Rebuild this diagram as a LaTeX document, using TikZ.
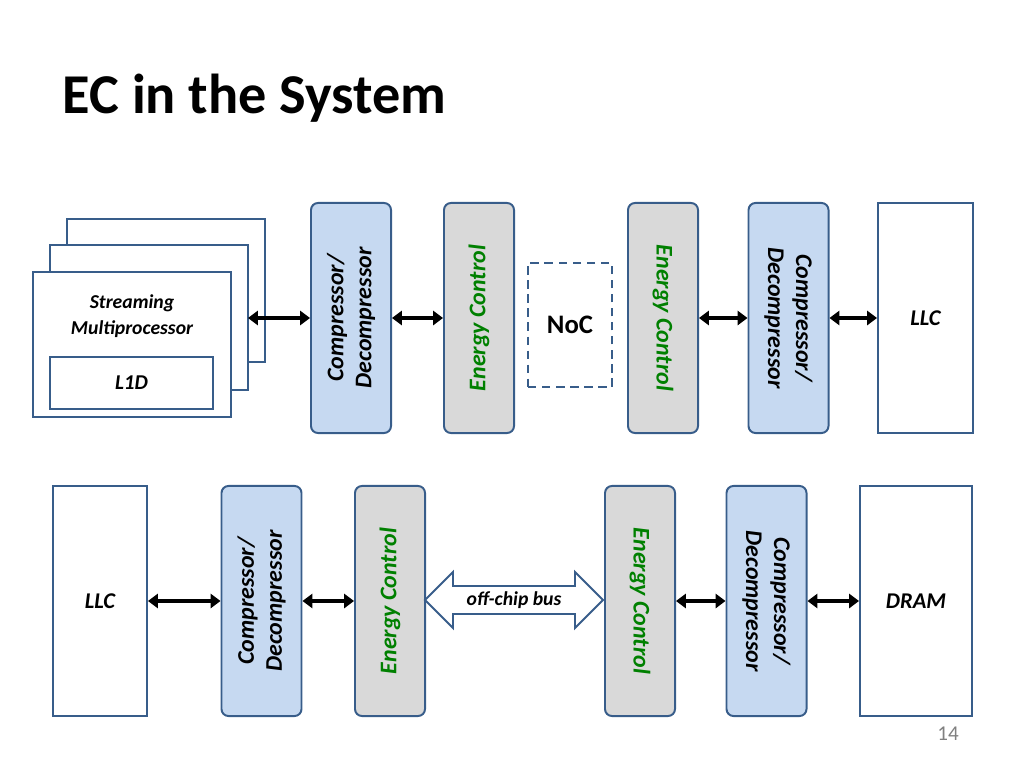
\documentclass[tikz,border=0pt]{standalone}
\usepackage{fontspec}
\setmainfont{Carlito}
\usetikzlibrary{arrows.meta}
\definecolor{boxline}{RGB}{56,93,138}
\definecolor{blockblue}{RGB}{198,217,241}
\definecolor{blockgray}{RGB}{217,217,217}
\definecolor{ectext}{RGB}{0,128,0}
\tikzset{
  plain/.style={draw=boxline, line width=1.4pt, fill=white, inner sep=0pt},
  codec/.style={draw=boxline, line width=1.4pt, fill=blockblue, rounded corners=5pt,
    minimum height=2cm, minimum width=5.75cm, align=center, inner sep=0pt,
    font=\fontsize{17}{20}\selectfont\bfseries\itshape},
  ectrl/.style={draw=boxline, line width=1.4pt, fill=blockgray, rounded corners=5pt,
    minimum height=1.75cm, minimum width=5.75cm, inner sep=0pt, text=ectext,
    font=\fontsize{17}{20}\selectfont\bfseries\itshape},
  link/.style={line width=2.4pt, {Triangle[length=7pt,width=10pt]}-{Triangle[length=7pt,width=10pt]}}
}
\begin{document}
\begin{tikzpicture}[x=0.025cm, y=-0.025cm]
  \useasboundingbox (0,0) rectangle (1024,768);
  \node[anchor=west, font=\fontsize{40}{46}\selectfont\bfseries] (title) at (58,98) {EC in the System};

  % upper row
  \draw[plain] (67,219) rectangle (265,362);
  \draw[plain] (50,245) rectangle (248,390);
  \node[plain, minimum width=4.95cm, minimum height=3.6cm] (sm) at (132,344.5) {};
  \node[align=center, font=\fontsize{14}{19}\selectfont\bfseries\itshape] (smtext) at (132,316) {Streaming\\Multiprocessor};
  \node[plain, minimum width=4.07cm, minimum height=1.3cm, font=\fontsize{15}{18}\selectfont\bfseries\itshape] (lone) at (131.5,383) {L1D};
  \coordinate (smport) at (248,318);
  \node[codec, rotate=90] (cda) at (351,318) {Compressor/\\Decompressor};
  \node[ectrl, rotate=90] (eca) at (479,318) {Energy Control};
  \node[draw=boxline, dashed, dash pattern=on 6pt off 4pt, line width=1.4pt, minimum width=2.1cm, minimum height=3.1cm,
    font=\fontsize{19}{22}\selectfont\bfseries] (noc) at (570,325) {NoC};
  \node[ectrl, rotate=-90] (ecb) at (663,318) {Energy Control};
  \node[codec, rotate=-90] (cdb) at (788.5,318) {Compressor/\\Decompressor};
  \node[plain, minimum width=2.375cm, minimum height=5.725cm, font=\fontsize{16}{19}\selectfont\bfseries\itshape] (llca) at (925.5,318) {LLC};
  \draw[link] (smport) -- (cda);
  \draw[link] (cda) -- (eca);
  \draw[link] (ecb) -- (cdb);
  \draw[link] (cdb) -- (llca);

  % lower row
  \node[plain, minimum width=2.35cm, minimum height=5.725cm, font=\fontsize{16}{19}\selectfont\bfseries\itshape] (llcb) at (100,601) {LLC};
  \node[codec, rotate=90] (cdc) at (261.5,601) {Compressor/\\Decompressor};
  \node[ectrl, rotate=90] (ecc) at (390,601) {Energy Control};
  \draw[draw=boxline, line width=1.4pt, fill=white]
    (425,600) -- (453,572) -- (453,586) -- (575,586) -- (575,572) -- (603,600)
    -- (575,628) -- (575,614) -- (453,614) -- (453,628) -- cycle;
  \node[font=\fontsize{14}{17}\selectfont\bfseries\itshape] (bus) at (514,600) {off-chip bus};
  \node[ectrl, rotate=-90] (ecd) at (640,601) {Energy Control};
  \node[codec, rotate=-90] (cdd) at (766.5,601) {Compressor/\\Decompressor};
  \node[plain, minimum width=2.8cm, minimum height=5.75cm, font=\fontsize{16}{19}\selectfont\bfseries\itshape] (dram) at (916,601) {DRAM};
  \draw[link] (llcb) -- (cdc);
  \draw[link] (cdc) -- (ecc);
  \draw[link] (ecd) -- (cdd);
  \draw[link] (cdd) -- (dram);

  \node[text=gray, font=\fontsize{15}{18}\selectfont] (page) at (948,734) {14};
\end{tikzpicture}
\end{document}
